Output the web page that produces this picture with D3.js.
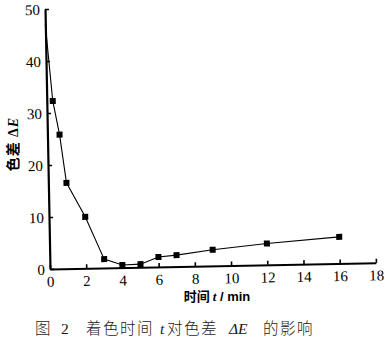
<!DOCTYPE html>
<html>
<head>
    <meta charset="utf-8">
    <script src="https://cdnjs.cloudflare.com/ajax/libs/d3/7.8.5/d3.min.js"></script>
    <style>
        body { margin: 0; background: #fff; }
        .num { font-family: "Liberation Serif", serif; font-size: 15px; fill: #000; }
        .cjk { font-family: "Noto Sans CJK SC", sans-serif; }
    </style>
</head>
<body>
    <div id="chart"></div>
    <script>
        // data
        const time = [0, 0.33, 0.67, 1, 2, 3, 4, 5, 6, 7, 9, 12, 16];
        const deltaE = [47, 32.3, 25.8, 16.5, 9.9, 1.7, 0.5, 0.6, 1.9, 2.2, 3.1, 4.1, 5.1];
        const xTicks = [0, 2, 4, 6, 8, 10, 12, 14, 16, 18];
        const yTicks = [0, 10, 20, 30, 40, 50];

        const width = 385, height = 342;
        const ox = 50, oy = 269;

        const svg = d3.select("#chart").append("svg")
            .attr("width", width)
            .attr("height", height);

        // the scan is slightly tilted
        const plot = svg.append("g")
            .attr("transform", `rotate(-1.1, ${ox}, ${oy})`);

        const x = d3.scaleLinear().domain([0, 18]).range([ox, 376]);
        const y = d3.scaleLinear().domain([0, 50]).range([oy, 9]);

        const xAxis = plot.append("g")
            .attr("transform", `translate(0, ${oy})`)
            .call(d3.axisBottom(x).tickValues(xTicks).tickSize(-4).tickSizeOuter(0).tickPadding(5));

        const yAxis = plot.append("g")
            .attr("transform", `translate(${ox}, 0)`)
            .call(d3.axisLeft(y).tickValues(yTicks).tickSize(-4).tickSizeOuter(0).tickPadding(5));

        [xAxis, yAxis].forEach(a => {
            a.select(".domain").attr("stroke", "#000").attr("stroke-width", 2.2);
            a.selectAll(".tick line").attr("stroke", "#000").attr("stroke-width", 1.6);
            a.selectAll(".tick text").attr("class", "num").attr("fill", "#000");
        });
        xAxis.selectAll(".tick text").attr("dy", "0.85em");
        yAxis.selectAll(".tick text").attr("dy", "0.35em");

        const line = d3.line()
            .x((d, i) => x(time[i]))
            .y(d => y(d));

        plot.append("path")
            .datum(deltaE)
            .attr("d", line)
            .attr("fill", "none")
            .attr("stroke", "#000")
            .attr("stroke-width", 1.1);

        // first point sits on the axis, its marker is not visible
        plot.selectAll("rect.pt")
            .data(deltaE.slice(1))
            .enter().append("rect")
            .attr("class", "pt")
            .attr("x", (d, i) => x(time[i + 1]) - 3)
            .attr("y", d => y(d) - 3)
            .attr("width", 6)
            .attr("height", 6)
            .attr("fill", "#000");

        // axis titles
        const yTitle = svg.append("text")
            .attr("class", "cjk")
            .attr("transform", "translate(18, 144) rotate(-90)")
            .attr("text-anchor", "middle")
            .attr("font-size", "14px")
            .attr("font-weight", "bold")
            .attr("letter-spacing", "1px");
        yTitle.append("tspan").text("色差 ");
        yTitle.append("tspan").attr("font-family", "Liberation Serif").text("Δ");
        yTitle.append("tspan").attr("font-family", "Liberation Serif").attr("font-style", "italic").text("E");

        const xTitle = svg.append("text")
            .attr("class", "cjk")
            .attr("x", 217)
            .attr("y", 301)
            .attr("text-anchor", "middle")
            .attr("font-size", "13px")
            .attr("font-weight", "bold");
        xTitle.append("tspan").text("时间 ");
        xTitle.append("tspan").attr("font-family", "Liberation Serif").attr("font-style", "italic").text("t");
        xTitle.append("tspan").attr("font-family", "Liberation Sans").text(" / min");

        // caption
        const cap = svg.append("g").attr("fill", "#1a1a1a");
        const capParts = [
            { t: "图", x: 35, f: "cjk" },
            { t: "2", x: 61, f: "serif" },
            { t: "着色时间", x: 86, f: "cjk" },
            { t: "t", x: 160, f: "serif", it: true },
            { t: "对色差", x: 167, f: "cjk" },
            { t: "ΔE", x: 229, f: "serif", it: true },
            { t: "的影响", x: 263, f: "cjk" }
        ];
        capParts.forEach(p => {
            cap.append("text")
                .attr("x", p.x)
                .attr("y", 334)
                .attr("font-size", "15.5px")
                .attr("font-family", p.f === "cjk" ? "Noto Sans CJK SC" : "Liberation Serif")
                .attr("font-style", p.it ? "italic" : "normal")
                .attr("font-weight", 300)
                .attr("letter-spacing", p.f === "cjk" ? "1.5px" : "0")
                .text(p.t);
        });
    </script>
</body>
</html>
